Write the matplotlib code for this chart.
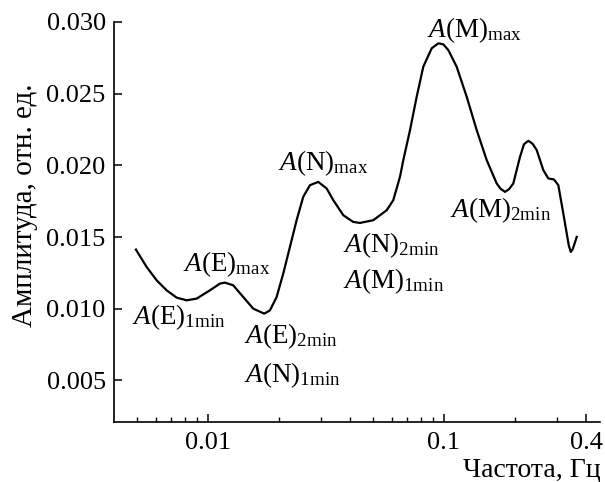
import matplotlib
matplotlib.use("Agg")
import matplotlib.pyplot as plt
from matplotlib.ticker import FixedLocator, NullFormatter

plt.rcParams['font.family'] = ['Liberation Serif', 'DejaVu Serif']
plt.rcParams['mathtext.fontset'] = 'custom'
plt.rcParams['mathtext.rm'] = 'Liberation Serif'
plt.rcParams['mathtext.it'] = 'Liberation Serif:italic'

freq = [0.004953, 0.005499, 0.006062, 0.006683, 0.007369, 0.008124, 0.008956,
        0.010197, 0.011242, 0.011804, 0.012796, 0.014110, 0.015556, 0.017320,
        0.018311, 0.019543, 0.020843, 0.022250, 0.023749, 0.025327, 0.027048,
        0.029335, 0.031844, 0.033970, 0.037442, 0.041262, 0.044055, 0.050165,
        0.057181, 0.060968, 0.065084, 0.067235, 0.071779, 0.076610, 0.081700,
        0.088678, 0.094592, 0.099318, 0.104285, 0.113160, 0.124790, 0.137580,
        0.151690, 0.167230, 0.173540, 0.181340, 0.188540, 0.196600, 0.209890,
        0.218250, 0.227630, 0.237140, 0.247100, 0.263500, 0.276700, 0.292450,
        0.304960, 0.318420, 0.331130, 0.337640, 0.344330, 0.350950, 0.365040]
amp = [0.014128, 0.012913, 0.011984, 0.011286, 0.010776, 0.010587, 0.010706,
       0.011286, 0.011753, 0.011823, 0.011635, 0.010818, 0.010007, 0.009658,
       0.009889, 0.010818, 0.012452, 0.014309, 0.016174, 0.017801, 0.018618,
       0.018848, 0.018387, 0.017570, 0.016523, 0.016055, 0.015985, 0.016174,
       0.016872, 0.017570, 0.019197, 0.020363, 0.022458, 0.024784, 0.026879,
       0.028163, 0.028513, 0.028443, 0.028045, 0.026879, 0.024784, 0.022458,
       0.020363, 0.018736, 0.018373, 0.018150, 0.018339, 0.018736, 0.020594,
       0.021481, 0.021711, 0.021515, 0.021062, 0.019665, 0.019086, 0.019016,
       0.018618, 0.016872, 0.015245, 0.014428, 0.013960, 0.014148, 0.015008]

x_ticks = [0.01, 0.1, 0.4]
x_tick_labels = ['0.01', '0.1', '0.4']
x_minor = [0.005, 0.006, 0.007, 0.008, 0.009, 0.02, 0.03, 0.04, 0.05, 0.06,
           0.07, 0.08, 0.09, 0.2, 0.3]
y_ticks = [0.005, 0.010, 0.015, 0.020, 0.025, 0.030]
y_tick_labels = ['0.005', '0.010', '0.015', '0.020', '0.025', '0.030']

labels = ['E', 'E', 'E', 'N', 'N', 'N', 'M', 'M', 'M']
subs = ['max', '1min', '2min', 'max', '1min', '2min', 'max', '1min', '2min']
label_x = [0.00784, 0.004764, 0.01421, 0.01980, 0.01421, 0.03733, 0.0847, 0.03733, 0.10602]
label_y = [0.01261, 0.00891, 0.00758, 0.01967, 0.00486, 0.01394, 0.02895, 0.01143, 0.01638]

fig = plt.figure(figsize=(6.05, 4.82), dpi=100)
ax = fig.add_axes([114/605, 1-422/482, (600-114)/605, (422-22)/482])
ax.plot(freq, amp, color='black', lw=1.6, solid_joinstyle='round')
ax.set_xscale('log')
ax.set_xlim(0.004, 0.458)
ax.set_ylim(0.0021, 0.030)

ax.xaxis.set_major_locator(FixedLocator(x_ticks))
ax.set_xticklabels(x_tick_labels)
ax.xaxis.set_minor_locator(FixedLocator(x_minor))
ax.xaxis.set_minor_formatter(NullFormatter())
ax.set_yticks(y_ticks)
ax.set_yticklabels(y_tick_labels)

for s in ['top', 'right']:
    ax.spines[s].set_visible(False)
for s in ['left', 'bottom']:
    ax.spines[s].set_linewidth(1.2)
ax.tick_params(which='major', direction='in', length=6, width=1.1, labelsize=19, pad=6)
ax.tick_params(which='minor', direction='in', length=3.5, width=1.0)
ax.tick_params(axis='x', which='major', pad=7)

for lab, sub, lx, ly in zip(labels, subs, label_x, label_y):
    ax.text(lx, ly, r'$\mathit{A}(\mathrm{%s})_{\mathrm{%s}}$' % (lab, sub),
            fontsize=19.5, ha='left', va='baseline')

fig.text(25/605, 1-205/482, 'Амплитуда, отн. ед.', rotation=90, fontsize=21,
         ha='center', va='center')
fig.text(601/605, 1-476/482, 'Частота, Гц', fontsize=20, ha='right', va='baseline')

fig.savefig('out.png', dpi=100)
